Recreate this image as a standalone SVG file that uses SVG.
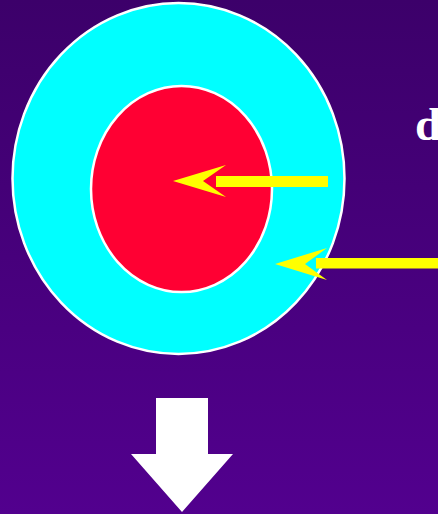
<svg xmlns="http://www.w3.org/2000/svg" width="438" height="514" viewBox="0 0 438 514">
<defs>
<linearGradient id="bg" x1="0" y1="0" x2="0" y2="1">
<stop offset="0" stop-color="#3c006a"/>
<stop offset="1" stop-color="#52008e"/>
</linearGradient>
<style>
.arr{fill:#ffff00}
.ring{stroke:#ffffff;stroke-width:2.5}
.lbl{font-family:"Liberation Serif",serif;font-weight:bold;fill:#ffffff}
</style>
</defs>
<rect width="438" height="514" fill="url(#bg)"/>
<g id="outer"><ellipse class="ring" cx="178.5" cy="178.5" rx="166" ry="175.5" fill="#00ffff"/></g>
<g id="inner"><ellipse class="ring" cx="181.5" cy="189" rx="90.5" ry="103" fill="#ff0033"/></g>
<g id="connectors">
<rect class="arr" x="216" y="176" width="112" height="11"/>
<polygon class="arr" points="173,181 226,165 203,181 226,197"/>
<rect class="arr" x="316" y="258" width="122" height="10.5"/>
<polygon class="arr" points="275,264 327,248 305,264 327,280"/>
</g>
<g id="label"><text class="lbl" x="415" y="140" font-size="47">d</text></g>
<g id="down"><polygon fill="#ffffff" points="156,398 208,398 208,454 233,454 182,512 131,454 156,454"/></g>
</svg>
